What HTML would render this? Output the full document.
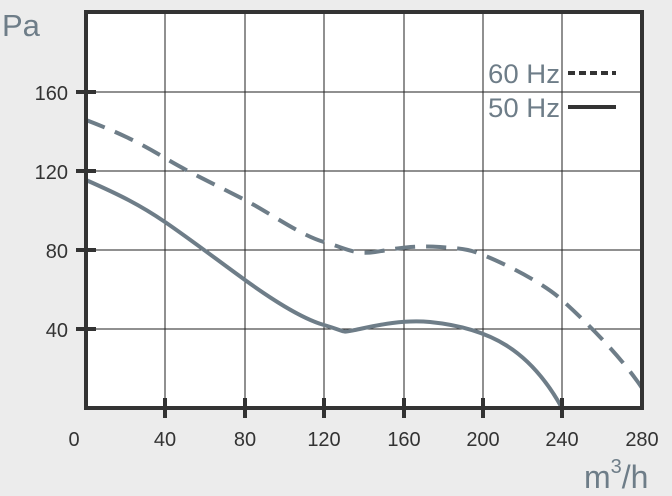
<!DOCTYPE html><html><head><style>body{margin:0;background:#ececec}svg{display:block;font-family:"Liberation Sans",sans-serif}</style></head><body>
<svg width="672" height="496" viewBox="0 0 672 496">
<rect x="86" y="12" width="556" height="396" fill="#fff"/>
<g stroke="#222" stroke-width="1">
<line x1="165" y1="12" x2="165" y2="408"/><line x1="245" y1="12" x2="245" y2="408"/><line x1="324" y1="12" x2="324" y2="408"/><line x1="404" y1="12" x2="404" y2="408"/><line x1="483" y1="12" x2="483" y2="408"/><line x1="562" y1="12" x2="562" y2="408"/>
<line x1="86" y1="92" x2="642" y2="92"/><line x1="86" y1="171" x2="642" y2="171"/><line x1="86" y1="250" x2="642" y2="250"/><line x1="86" y1="329" x2="642" y2="329"/>
</g>
<path d="M86,120 C120,133 140,143 165,158 S220,187 245,200 S300,235 324,242 S355,255 375,252 S410,245 440,247 S470,250 483,255 S540,280 562,300 S620,355 642,388" fill="none" stroke="#6e7d88" stroke-width="4" stroke-dasharray="20,11"/>
<path d="M86,180 C120,195 140,205 165,222 S220,262 245,280 S300,318 324,325 S340,333 355,330 S400,319 430,322 C490,328 530,350 562,408" fill="none" stroke="#6e7d88" stroke-width="4"/>
<g stroke="#333" stroke-width="4"><line x1="76" y1="92" x2="96" y2="92"/><line x1="76" y1="171" x2="96" y2="171"/><line x1="76" y1="250" x2="96" y2="250"/><line x1="76" y1="329" x2="96" y2="329"/>
<line x1="165" y1="398" x2="165" y2="418"/><line x1="245" y1="398" x2="245" y2="418"/><line x1="324" y1="398" x2="324" y2="418"/><line x1="404" y1="398" x2="404" y2="418"/><line x1="483" y1="398" x2="483" y2="418"/><line x1="562" y1="398" x2="562" y2="418"/></g>
<rect x="86" y="12" width="556" height="396" fill="none" stroke="#333" stroke-width="4"/>
<line x1="568" y1="73" x2="616" y2="73" stroke="#333" stroke-width="4" stroke-dasharray="7,4"/>
<line x1="568" y1="107" x2="616" y2="107" stroke="#333" stroke-width="4"/>
<g fill="#6e7d88" font-size="27" text-anchor="end"><text x="560" y="83" textLength="72" lengthAdjust="spacingAndGlyphs">60 Hz</text><text x="560" y="117" textLength="72" lengthAdjust="spacingAndGlyphs">50 Hz</text></g>
<text x="2" y="36" fill="#6e7d88" font-size="31">Pa</text>
<g fill="#333" font-size="20" text-anchor="end"><text x="68" y="100">160</text><text x="68" y="179">120</text><text x="68" y="258">80</text><text x="68" y="337">40</text></g>
<g fill="#333" font-size="20" text-anchor="middle"><text x="74" y="446">0</text><text x="165" y="446">40</text><text x="245" y="446">80</text><text x="324" y="446">120</text><text x="404" y="446">160</text><text x="483" y="446">200</text><text x="562" y="446">240</text><text x="642" y="446">280</text></g>
<text x="584" y="488" fill="#6e7d88" font-size="32">m<tspan font-size="20" dy="-15">3</tspan><tspan dy="15">/h</tspan></text>
</svg></body></html>
